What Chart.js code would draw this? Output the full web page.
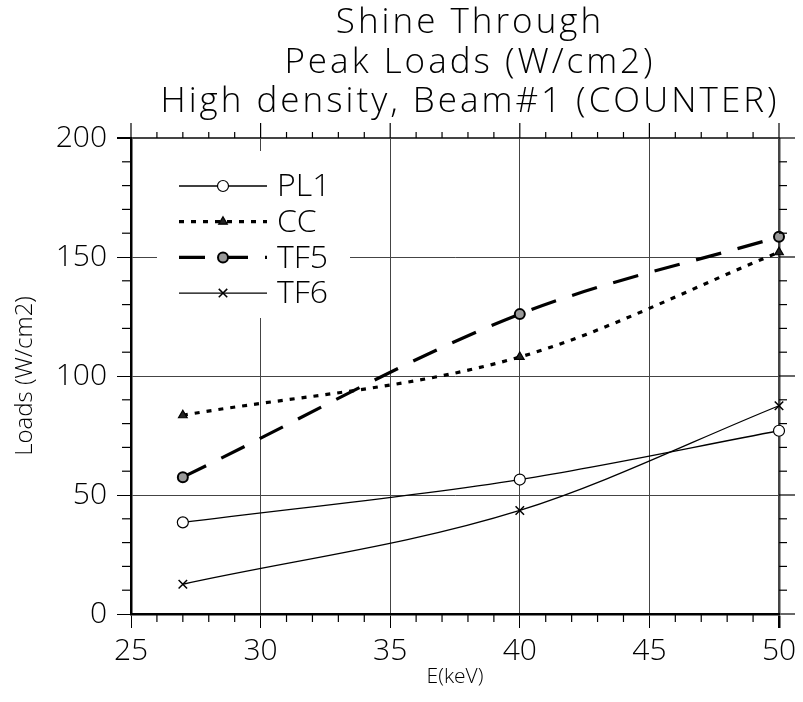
<!DOCTYPE html>
<html>
<head>
<meta charset="utf-8">
<script src="https://cdn.jsdelivr.net/npm/chart.js@4"></script>
<style>
  html, body { margin: 0; padding: 0; background: #fff; }
</style>
</head>
<body>
<canvas id="chart" width="803" height="702"></canvas>
<script>
// data
const energies = [27, 40, 50];
const pl1 = [38.5, 56.5, 77];
const cc = [83.5, 108, 152];
const tf5 = [57.5, 126, 158.5];
const tf6 = [12.5, 43.5, 87.5];
const seriesNames = ['PL1', 'CC', 'TF5', 'TF6'];
const titleLines = ['Shine Through', 'Peak Loads (W/cm2)', 'High density, Beam#1 (COUNTER)'];
const xTitle = 'E(keV)';
const yTitle = 'Loads (W/cm2)';

const FONT = '"Open Sans", "DejaVu Sans", sans-serif';

const toPoints = (ys) => energies.map((x, i) => ({ x: x, y: ys[i] }));

// title drawn by hand so it can sit where the original has it
const titlePlugin = {
    id: 'titleLines',
    afterDraw(chart) {
        const ctx = chart.ctx;
        ctx.save();
        ctx.fillStyle = '#000';
        ctx.font = '300 35px ' + FONT;
        ctx.letterSpacing = '3px';
        ctx.textAlign = 'center';
        ctx.textBaseline = 'alphabetic';
        titleLines.forEach((t, i) => {
            ctx.fillText(t, 470, 33 + i * 39.5);
        });
        ctx.restore();
    }
};

// minor ticks around the frame
const frameTicks = {
    id: 'frameTicks',
    afterDraw(chart) {
        const { ctx, chartArea: a, scales: { x, y } } = chart;
        const line = (x1, y1, x2, y2) => {
            ctx.beginPath();
            ctx.moveTo(x1, y1);
            ctx.lineTo(x2, y2);
            ctx.stroke();
        };
        ctx.save();
        ctx.strokeStyle = '#000';
        ctx.lineWidth = 1.2;
        for (let v = x.min; v <= x.max; v += 1) {
            const px = x.getPixelForValue(v);
            const major = v % 5 === 0;
            if (!major) line(px, a.bottom, px, a.bottom + 8);
            line(px, a.top, px, a.top - (major ? 15 : 6));
        }
        for (let v = y.min; v <= y.max; v += 10) {
            const py = y.getPixelForValue(v);
            const major = v % 50 === 0;
            if (!major) line(a.left - 9, py, a.left, py);
            line(a.right, py, a.right + (major ? 16 : 8), py);
        }
        ctx.restore();
    }
};

// legend inside the plot, line sample with the marker in the middle
const insideLegend = {
    id: 'insideLegend',
    afterDatasetsDraw(chart) {
        const ctx = chart.ctx;
        ctx.save();
        ctx.fillStyle = '#fff';
        ctx.fillRect(157, 151, 193, 167);
        chart.data.datasets.forEach((ds, i) => {
            const y = 186 + i * 35.7;
            ctx.strokeStyle = '#000';
            ctx.lineWidth = ds.borderWidth;
            ctx.setLineDash(ds.borderDash || []);
            ctx.beginPath();
            ctx.moveTo(179, y);
            ctx.lineTo(267, y);
            ctx.stroke();
            ctx.setLineDash([]);
            ctx.fillStyle = ds.pointBackgroundColor;
            ctx.strokeStyle = ds.pointBorderColor;
            ctx.lineWidth = ds.pointBorderWidth;
            Chart.helpers.drawPoint(ctx, {
                pointStyle: ds.pointStyle,
                radius: ds.pointRadius,
                borderWidth: ds.pointBorderWidth,
                rotation: 0
            }, 223, y);
            ctx.fillStyle = '#000';
            ctx.font = '300 32px ' + FONT;
            ctx.textAlign = 'left';
            ctx.textBaseline = 'middle';
            ctx.fillText(ds.label, 277, y + 1);
        });
        ctx.restore();
    }
};

const datasets = [
    {
        label: seriesNames[0],
        data: toPoints(pl1),
        borderColor: '#000',
        borderWidth: 1.3,
        pointStyle: 'circle',
        pointRadius: 5.5,
        pointBackgroundColor: '#fff',
        pointBorderColor: '#000',
        pointBorderWidth: 1.2
    },
    {
        label: seriesNames[1],
        data: toPoints(cc),
        borderColor: '#000',
        borderWidth: 3.2,
        borderDash: [5, 7],
        pointStyle: 'triangle',
        pointRadius: 5,
        pointBackgroundColor: '#222',
        pointBorderColor: '#000',
        pointBorderWidth: 1.2
    },
    {
        label: seriesNames[2],
        data: toPoints(tf5),
        borderColor: '#000',
        borderWidth: 3.2,
        borderDash: [26, 17],
        pointStyle: 'circle',
        pointRadius: 5,
        pointBackgroundColor: '#999',
        pointBorderColor: '#000',
        pointBorderWidth: 2
    },
    {
        label: seriesNames[3],
        data: toPoints(tf6),
        borderColor: '#000',
        borderWidth: 1.3,
        pointStyle: 'crossRot',
        pointRadius: 6,
        pointBackgroundColor: '#000',
        pointBorderColor: '#000',
        pointBorderWidth: 1.5
    }
];
datasets.forEach(ds => {
    ds.cubicInterpolationMode = 'monotone';
    ds.fill = false;
    ds.clip = false;
});

new Chart(document.getElementById('chart'), {
    type: 'line',
    data: { datasets: datasets },
    options: {
        responsive: false,
        animation: false,
        layout: { padding: { top: 138, right: 24, left: 0, bottom: 0 } },
        plugins: {
            legend: { display: false },
            title: { display: false },
            tooltip: { enabled: false }
        },
        scales: {
            x: {
                type: 'linear',
                min: 25,
                max: 50,
                afterFit(scale) { scale.height = 88; },
                ticks: {
                    stepSize: 5,
                    color: '#000',
                    padding: 5,
                    font: { family: FONT, size: 30, weight: 300 }
                },
                grid: {
                    color: '#444',
                    lineWidth: (c) => (c.tick && c.tick.value === 50 ? 2.5 : 1),
                    tickLength: 14,
                    tickColor: '#000'
                },
                border: { color: '#000', width: 2.5 },
                title: {
                    display: true,
                    text: xTitle,
                    color: '#000',
                    padding: { top: 0, bottom: 12 },
                    font: { family: FONT, size: 21, weight: 300 }
                }
            },
            y: {
                min: 0,
                max: 200,
                afterFit(scale) { scale.width = 131; },
                ticks: {
                    stepSize: 50,
                    color: '#000',
                    padding: 10,
                    font: { family: FONT, size: 30, weight: 300 }
                },
                grid: {
                    color: '#444',
                    lineWidth: (c) => (c.tick && c.tick.value === 200 ? 2 : 1),
                    tickLength: 14,
                    tickColor: '#000'
                },
                border: { color: '#000', width: 2.5 },
                title: {
                    display: true,
                    text: yTitle,
                    color: '#000',
                    padding: { top: 11, bottom: 0 },
                    font: { family: FONT, size: 24, weight: 300 }
                }
            }
        }
    },
    plugins: [titlePlugin, frameTicks, insideLegend]
});
</script>
</body>
</html>
